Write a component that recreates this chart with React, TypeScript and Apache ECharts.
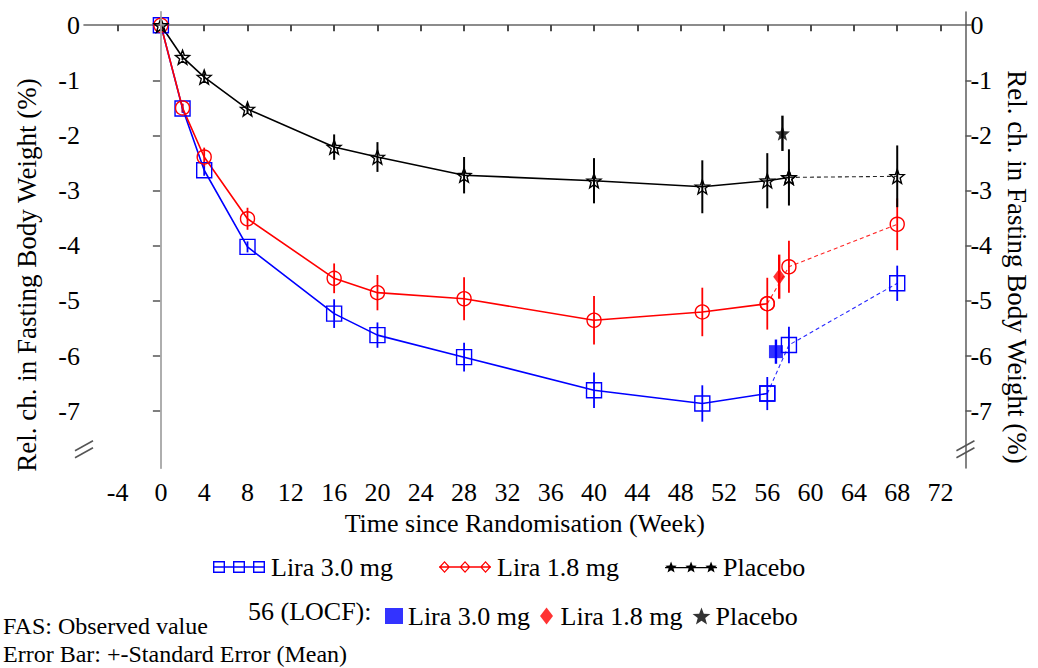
import React, { useEffect, useRef } from "react";
import * as echarts from "echarts";

// ---------- data ----------
const weeks = [0, 2, 4, 8, 16, 20, 28, 40, 50, 56, 58, 68];
const lira30Mean = [0, -1.51, -2.63, -4.02, -5.23, -5.62, -6.02, -6.62, -6.86, -6.68, -5.8, -4.68];
const lira30SE = [0, 0.08, 0.1, 0.1, 0.26, 0.23, 0.26, 0.32, 0.33, 0.3, 0.33, 0.32];
const lira18Mean = [0, -1.5, -2.39, -3.51, -4.59, -4.85, -4.96, -5.35, -5.2, -5.05, -4.38, -3.61];
const lira18SE = [0, 0.08, 0.17, 0.2, 0.27, 0.32, 0.39, 0.44, 0.44, 0.47, 0.47, 0.47];
const placeboMean = [0, -0.58, -0.94, -1.52, -2.21, -2.39, -2.72, -2.82, -2.93, -2.82, -2.76, -2.74];
const placeboSE = [0, 0.05, 0.07, 0.08, 0.23, 0.27, 0.33, 0.41, 0.48, 0.5, 0.51, 0.56];

const locfNames = ["Lira 3.0 mg", "Lira 1.8 mg", "Placebo"];
const locfWeek = [56.8, 57.1, 57.4];
const locfMean = [-5.92, -4.56, -1.96];
const locfSE = [0.22, 0.4, 0.32];

const xTicks = [-4, 0, 4, 8, 12, 16, 20, 24, 28, 32, 36, 40, 44, 48, 52, 56, 60, 64, 68, 72];
const yTicks = [0, -1, -2, -3, -4, -5, -6, -7];
const breakValue = -7.69;

const groupNames = ["Lira 3.0 mg", "Lira 1.8 mg", "Placebo"];
const groupMeans = [lira30Mean, lira18Mean, placeboMean];
const groupSEs = [lira30SE, lira18SE, placeboSE];
const groupColors = ["#0000ff", "#ff0000", "#000000"];
const lastSolidIndex = [9, 9, 10];

const FONT = "Liberation Serif, Times New Roman, serif";

function starPath(cx: number, cy: number, R: number, r: number) {
  let d = "";
  for (let k = 0; k < 10; k++) {
    const ang = -Math.PI / 2 + (k * Math.PI) / 5;
    const rad = k % 2 === 0 ? R : r;
    const x = cx + rad * Math.cos(ang);
    const y = cy + rad * Math.sin(ang);
    d += (k === 0 ? "M" : "L") + x.toFixed(2) + " " + y.toFixed(2) + " ";
  }
  return d + "Z ";
}

const legendLine = "M0 5.3 L52 5.3 L52 6.7 L0 6.7 Z ";
function squaresIcon() {
  let d = legendLine;
  [6, 26, 46].forEach((cx) => {
    d += `M${cx - 6} 0 L${cx + 6} 0 L${cx + 6} 12 L${cx - 6} 12 Z `;
    d += `M${cx - 4.6} 1.4 L${cx - 4.6} 10.6 L${cx + 4.6} 10.6 L${cx + 4.6} 1.4 Z `;
  });
  return "path://" + d;
}
function diamondsIcon() {
  let d = legendLine;
  [5.5, 26, 46.5].forEach((cx) => {
    d += `M${cx} 0 L${cx + 5.5} 6 L${cx} 12 L${cx - 5.5} 6 Z `;
    d += `M${cx} 1.8 L${cx - 3.8} 6 L${cx} 10.2 L${cx + 3.8} 6 Z `;
  });
  return "path://" + d;
}
function starsIcon() {
  let d = legendLine;
  [6, 26, 46].forEach((cx) => {
    d += starPath(cx, 6, 6, 2.6);
  });
  return "path://" + d;
}

const openStar = "path://" + starPath(10, 10, 10, 4.2);
const filledStar = "path://" + starPath(10, 10, 10, 4.2);
const diamondSym = "path://M6.5 0 L13 8.5 L6.5 17 L0 8.5 Z";
const squareSym = "path://M0 0 L18 0 L18 16 L0 16 Z";

const markerSymbols = ["rect", "circle", openStar];
const markerSizes = [15, 14, 14];
const locfSymbols = [squareSym, diamondSym, filledStar];
const locfSizes: any[] = [[14, 13], [12, 16], 15];
const legendIcons = [squaresIcon(), diamondsIcon(), starsIcon()];

export default function App() {
  const ref = useRef<HTMLDivElement>(null);

  useEffect(() => {
    document.body.style.margin = "0";
    const chart = echarts.init(ref.current!, null, { renderer: "svg" });

    const series: any[] = [];

    // reference vertical line at week 0
    series.push({
      type: "line",
      name: "ref",
      data: [[0, 0]],
      symbol: "none",
      silent: true,
      z: 1,
      lineStyle: { width: 0 },
      markLine: {
        silent: true,
        symbol: ["none", "none"],
        label: { show: false },
        lineStyle: { color: "#bdbdbd", width: 1.5, type: "solid" },
        data: [{ xAxis: 0 }],
      },
    });

    groupNames.forEach((name, g) => {
      const color = groupColors[g];
      const means = groupMeans[g];
      const ses = groupSEs[g];
      const cut = lastSolidIndex[g];
      // error bars (mean +- SE)
      series.push({
        type: "custom",
        name: name + " SE",
        z: 3,
        silent: true,
        data: weeks.map((w, i) => [w, means[i] - ses[i], means[i] + ses[i]]),
        encode: { x: 0, y: [1, 2] },
        renderItem: (params: any, api: any) => {
          const p1 = api.coord([api.value(0), api.value(1)]);
          const p2 = api.coord([api.value(0), api.value(2)]);
          return {
            type: "line",
            shape: { x1: p1[0], y1: p1[1], x2: p2[0], y2: p2[1] },
            style: { stroke: color, lineWidth: g === 2 ? 2 : 1.8 },
          };
        },
      });
      // solid observed line
      series.push({
        type: "line",
        name,
        z: 4,
        data: weeks.slice(0, cut + 1).map((w, i) => [w, means[i]]),
        symbol: markerSymbols[g],
        symbolSize: markerSizes[g],
        showAllSymbol: true,
        lineStyle: { color, width: 1.6 },
        itemStyle: { color: "none", borderColor: color, borderWidth: 1.4 },
        emphasis: { disabled: true },
      });
      // dashed continuation
      series.push({
        type: "line",
        name: name + " cont",
        z: 4,
        data: weeks.slice(cut).map((w, i) => [w, means[cut + i]]),
        symbol: markerSymbols[g],
        symbolSize: markerSizes[g],
        showAllSymbol: true,
        lineStyle: { color, width: 1.1, type: [4, 3], opacity: 0.85 },
        itemStyle: { color: "none", borderColor: color, borderWidth: 1.4 },
        emphasis: { disabled: true },
      });
    });

    // LOCF points
    locfNames.forEach((name, g) => {
      const color = groupColors[g];
      series.push({
        type: "custom",
        name: "LOCF " + name + " SE",
        z: 5,
        silent: true,
        data: [[locfWeek[g], locfMean[g] - locfSE[g], locfMean[g] + locfSE[g]]],
        encode: { x: 0, y: [1, 2] },
        renderItem: (params: any, api: any) => {
          const p1 = api.coord([api.value(0), api.value(1)]);
          const p2 = api.coord([api.value(0), api.value(2)]);
          return {
            type: "line",
            shape: { x1: p1[0], y1: p1[1], x2: p2[0], y2: p2[1] },
            style: { stroke: color, lineWidth: 2.4 },
          };
        },
      });
      series.push({
        type: "scatter",
        name: "LOCF " + name,
        z: 6,
        data: [[locfWeek[g], locfMean[g]]],
        symbol: locfSymbols[g],
        symbolSize: locfSizes[g],
        itemStyle: { color },
        emphasis: { disabled: true },
      });
    });

    // axis break marks
    series.push({
      type: "custom",
      name: "break",
      z: 7,
      silent: true,
      clip: false,
      data: [[-7.1, breakValue], [74.3, breakValue]],
      renderItem: (params: any, api: any) => {
        const p = api.coord([api.value(0), api.value(1)]);
        const mk = (dy: number) => ({
          type: "line",
          shape: { x1: p[0] - 9, y1: p[1] + 5 + dy, x2: p[0] + 9, y2: p[1] - 5 + dy },
          style: { stroke: "#555", lineWidth: 1.5 },
        });
        return { type: "group", children: [mk(-3.5), mk(3.5)] };
      },
    });

    const axisLine = { show: true, lineStyle: { color: "#666", width: 1.6 } };
    const yAxisBase = {
      type: "value",
      min: -8.03,
      max: 0.24,
      splitLine: { show: false },
      axisLine,
      name: "Rel. ch. in Fasting Body Weight (%)",
      nameLocation: "middle",
    };

    chart.setOption({
      animation: false,
      textStyle: { fontFamily: FONT },
      grid: { left: 84, right: 69, top: 12, bottom: 200, containLabel: false },
      xAxis: {
        type: "value",
        min: -7.1,
        max: 74.3,
        splitLine: { show: false },
        axisLine,
        axisTick: { customValues: xTicks, length: 6, lineStyle: { color: "#111", width: 1.5 } },
        axisLabel: { customValues: xTicks, fontSize: 26, color: "#000", margin: 11, fontFamily: FONT },
        name: "Time since Randomisation (Week)",
        nameLocation: "middle",
        nameGap: 42,
        nameTextStyle: { fontSize: 26, color: "#000", fontFamily: FONT },
      },
      yAxis: [
        {
          ...yAxisBase,
          position: "left",
          axisTick: { customValues: yTicks, length: 8, lineStyle: { color: "#555", width: 1.5 } },
          axisLabel: { customValues: yTicks, fontSize: 26, color: "#000", margin: 4, fontFamily: FONT },
          nameRotate: 90,
          nameGap: 44,
          nameTextStyle: { fontSize: 27, color: "#000", fontFamily: FONT, padding: [0, 70, 0, 0] },
        },
        {
          ...yAxisBase,
          position: "right",
          axisTick: { customValues: yTicks, length: 6, lineStyle: { color: "#555", width: 1.5 } },
          axisLabel: { customValues: yTicks, fontSize: 26, color: "#000", margin: 5, fontFamily: FONT },
          nameRotate: -90,
          nameGap: 33,
          nameTextStyle: { fontSize: 27, color: "#000", fontFamily: FONT, padding: [0, 0, 0, 54] },
        },
      ],
      legend: [
        {
          left: 208,
          top: 549,
          orient: "horizontal",
          selectedMode: false,
          itemWidth: 52,
          itemHeight: 12,
          itemGap: 46,
          textStyle: { fontSize: 26, color: "#000", fontFamily: FONT, padding: [0, 0, 0, 1] },
          data: groupNames.map((n, g) => ({
            name: n,
            icon: legendIcons[g],
            itemStyle: { color: groupColors[g], borderWidth: 0 },
          })),
        },
        {
          left: 380,
          top: 598,
          orient: "horizontal",
          selectedMode: false,
          itemWidth: 18,
          itemHeight: 17,
          itemGap: 10,
          textStyle: { fontSize: 26, color: "#000", fontFamily: FONT },
          formatter: (n: string) => n.replace("LOCF ", ""),
          data: locfNames.map((n, g) => ({
            name: "LOCF " + n,
            icon: locfSymbols[g],
            itemStyle: { color: groupColors[g], borderWidth: 0 },
          })),
        },
      ],
      graphic: [
        {
          type: "text",
          left: 248,
          top: 598,
          style: { text: "56 (LOCF):", fontSize: 26, fontFamily: FONT, fill: "#000" },
        },
        {
          type: "text",
          left: 3,
          top: 612,
          style: { text: "FAS: Observed value", fontSize: 24, fontFamily: FONT, lineHeight: 27, fill: "#000" },
        },
        {
          type: "text",
          left: 3,
          top: 640,
          style: { text: "Error Bar: +-Standard Error (Mean)", fontSize: 24, fontFamily: FONT, lineHeight: 27, fill: "#000" },
        },
      ],
      series,
    });

    return () => chart.dispose();
  }, []);

  return <div ref={ref} style={{ width: 1038, height: 668 }} />;
}
